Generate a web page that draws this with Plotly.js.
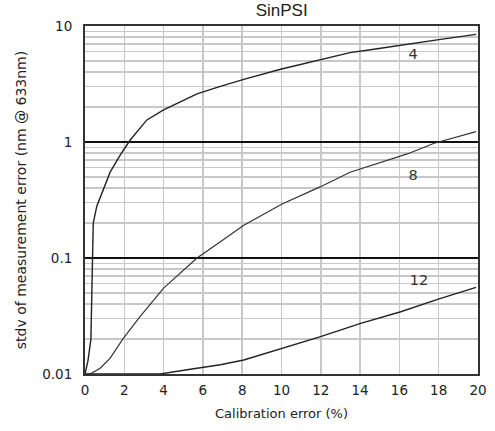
<!DOCTYPE html>
<html>
<head>
<meta charset="utf-8">
<script src="https://cdn.plot.ly/plotly-3.0.1.min.js"></script>
<style>html,body{margin:0;padding:0;background:#fff;}#chart{width:495px;height:431px;}</style>
</head>
<body>
<div id="chart"></div>
<script>
// Curve "4"
const x4 = [0, 0.15, 0.3, 0.35, 0.38, 0.42, 0.6, 0.93, 1.28, 1.79, 2.3, 3.15, 4.0, 4.85, 5.7, 6.85, 8.08, 9.95, 11.99, 13.49, 14.7, 16.4, 18.1, 19.9];
const y4 = [0.01, 0.013, 0.02, 0.06, 0.12, 0.2, 0.28, 0.385, 0.55, 0.77, 1.04, 1.55, 1.89, 2.22, 2.6, 3.0, 3.47, 4.24, 5.09, 5.89, 6.3, 7.0, 7.67, 8.47];
// Curve "8"
const x8 = [0, 0.26, 0.77, 1.28, 1.95, 2.8, 4.0, 4.85, 5.7, 6.89, 8.08, 10.03, 11.99, 13.49, 14.7, 16.4, 17.77, 19.9];
const y8 = [0.01, 0.01, 0.0112, 0.0137, 0.0203, 0.0312, 0.055, 0.0738, 0.1, 0.138, 0.192, 0.292, 0.412, 0.548, 0.634, 0.789, 0.975, 1.23];
// Curve "12"
const x12 = [0, 3.83, 5.36, 6.89, 8.08, 10.03, 11.99, 14.03, 16.07, 17.94, 19.9];
const y12 = [0.01, 0.01, 0.011, 0.012, 0.0132, 0.0167, 0.021, 0.0273, 0.0344, 0.044, 0.0558];
// Curve labels
const labelText = ['4', '8', '12'];
const labelX = [16.7, 16.7, 17.0];
const labelY = [5.6, 0.51, 0.063];
// Axis ticks
const xTicks = [0, 2, 4, 6, 8, 10, 12, 14, 16, 18, 20];
const yMajor = [0.01, 0.1, 1, 10];
const yMajorText = ['0.01', '0.1', '1', '10'];
const yMinor = [];
[0.01, 0.1, 1].forEach(d => { for (let k = 2; k <= 9; k++) yMinor.push(+(d * k).toPrecision(3)); });

const font = {family: 'DejaVu Sans, Verdana, sans-serif', size: 13, color: '#222'};
const line = {color: '#222', width: 1.4};

const traces = [
  {x: x4, y: y4, mode: 'lines', line: line, hoverinfo: 'skip'},
  {x: x8, y: y8, mode: 'lines', line: {color: '#333', width: 1.2}, hoverinfo: 'skip'},
  {x: x12, y: y12, mode: 'lines', line: line, hoverinfo: 'skip'},
  {x: labelX, y: labelY, mode: 'text', text: labelText, textfont: {family: font.family, size: 14.5, color: '#333'}, hoverinfo: 'skip'}
];

const layout = {
  width: 495, height: 431,
  margin: {l: 85, r: 17, t: 26, b: 57},
  paper_bgcolor: '#fff', plot_bgcolor: '#fff',
  showlegend: false,
  font: font,
  title: {text: 'SinPSI', x: 0.569, xanchor: 'center', y: 0.976, yanchor: 'middle', font: {family: 'Liberation Sans, Arial, sans-serif', size: 17, color: '#222'}},
  xaxis: {
    range: [0, 20], tickvals: xTicks, ticktext: xTicks.map(String),
    showgrid: true, gridcolor: '#c8c8c8', gridwidth: 1.5,
    showline: true, linecolor: '#333', linewidth: 2, mirror: true,
    ticks: '', zeroline: false, ticklabelstandoff: 3,
    tickfont: {family: font.family, size: 13.5, color: '#222'},
    title: {text: 'Calibration error (%)', font: font, standoff: 12}
  },
  yaxis: {
    type: 'log', range: [-2, 1], tickvals: yMajor, ticktext: yMajorText,
    showgrid: true, gridcolor: '#111', gridwidth: 1.3,
    minor: {tickvals: yMinor, showgrid: true, gridcolor: '#c8c8c8', gridwidth: 1.5, ticks: ''},
    showline: true, linecolor: '#333', linewidth: 2, mirror: true,
    ticks: '', zeroline: false, ticklabelstandoff: 8,
    tickfont: {family: font.family, size: 13.5, color: '#222'},
    title: {text: 'stdv of measurement error (nm @ 633nm)', font: {family: font.family, size: 14, color: '#222'}, standoff: 12}
  }
};

Plotly.newPlot('chart', traces, layout, {staticPlot: true, displayModeBar: false});
</script>
</body>
</html>
